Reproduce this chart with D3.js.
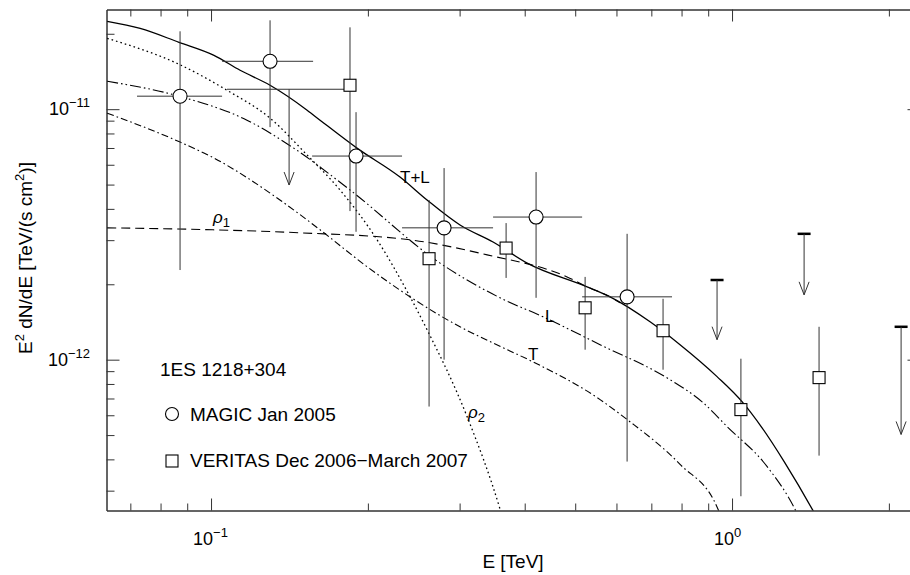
<!DOCTYPE html>
<html>
<head>
<meta charset="utf-8">
<script src="https://cdn.jsdelivr.net/npm/d3@7"></script>
<style>
  body { margin: 0; background: #fff; }
  text { font-family: "Liberation Sans", Arial, sans-serif; fill: #000; }
</style>
</head>
<body>
<div id="chart"></div>
<script>
// MAGIC Jan 2005 (E in TeV, E^2 dN/dE in TeV/(s cm^2))
const magicE   = [0.0872, 0.1298, 0.1898, 0.2801, 0.4206, 0.6289];
const magicF   = [1.127e-11, 1.553e-11, 6.50e-12, 3.36e-12, 3.71e-12, 1.782e-12];
const magicElo = [0.0721, 0.1050, 0.1563, 0.2326, 0.3478, 0.5155];
const magicEhi = [0.1050, 0.1570, 0.2326, 0.3478, 0.5155, 0.7670];
const magicFlo = [2.28e-12, 8.48e-12, 3.24e-12, 1.0e-12, 1.766e-12, 3.92e-13];
const magicFhi = [2.046e-11, 2.263e-11, 9.73e-12, 5.82e-12, 5.61e-12, 3.18e-12];
// MAGIC upper limit
const magicUlE = [0.1412], magicUlElo = [0.1073], magicUlEhi = [0.1848];
const magicUlF = [1.201e-11], magicUlTip = [4.98e-12];

// VERITAS Dec 2006 - March 2007
const veritasE   = [0.1848, 0.2621, 0.3684, 0.5224, 0.7372, 1.040, 1.469];
const veritasF   = [1.246e-11, 2.53e-12, 2.79e-12, 1.611e-12, 1.305e-12, 6.32e-13, 8.48e-13];
const veritasFlo = [3.92e-12, 6.50e-13, 2.12e-12, 1.096e-12, 9.12e-13, 2.85e-13, 4.14e-13];
const veritasFhi = [2.122e-11, 4.34e-12, 3.51e-12, 2.14e-12, 1.750e-12, 1.009e-12, 1.353e-12];
// VERITAS upper limits
const veritasUlE   = [0.9359, 1.375, 2.111];
const veritasUlF   = [2.08e-12, 3.18e-12, 1.353e-12];
const veritasUlTip = [1.202e-12, 1.815e-12, 5.03e-13];

// model curves
const tlE = [0.0632, 0.0731, 0.0868, 0.1013, 0.1137, 0.1298, 0.1529, 0.1619, 0.1906, 0.2305, 0.2598, 0.3005, 0.3478, 0.4043, 0.5270, 0.5833, 0.6961, 0.7947, 0.9359, 1.049, 1.141, 1.259, 1.430, 1.462];
const tlF = [2.242e-11, 2.10e-11, 1.849e-11, 1.641e-11, 1.430e-11, 1.246e-11, 9.91e-12, 9.04e-12, 6.99e-12, 5.36e-12, 4.34e-12, 3.45e-12, 2.95e-12, 2.43e-12, 1.954e-12, 1.782e-12, 1.417e-12, 1.148e-12, 8.56e-13, 6.74e-13, 5.36e-13, 3.92e-13, 2.50e-13, 2.30e-13];

const rho2E = [0.0632, 0.0868, 0.1073, 0.1298, 0.1529, 0.1768, 0.2083, 0.2410, 0.2598, 0.3100, 0.3587, 0.3636];
const rho2F = [1.918e-11, 1.511e-11, 1.190e-11, 9.21e-12, 6.56e-12, 4.76e-12, 3.01e-12, 1.782e-12, 1.317e-12, 5.93e-13, 2.53e-13, 2.30e-13];

const lE = [0.0632, 0.0868, 0.1172, 0.1431, 0.1848, 0.2751, 0.3587, 0.4338, 0.5581, 0.7603, 0.8797, 0.9781, 1.167, 1.321, 1.351];
const lF = [1.293e-11, 1.127e-11, 9.04e-12, 7.06e-12, 4.76e-12, 2.43e-12, 1.766e-12, 1.483e-12, 1.148e-12, 8.32e-13, 6.74e-13, 5.41e-13, 3.75e-13, 2.53e-13, 2.30e-13];

const tE = [0.0632, 0.0872, 0.1013, 0.1356, 0.1619, 0.1993, 0.3005, 0.3636, 0.4150, 0.5581, 0.6289, 0.7947, 0.9400, 0.9568];
const tF = [9.64e-12, 7.39e-12, 6.38e-12, 4.34e-12, 3.30e-12, 2.35e-12, 1.353e-12, 1.116e-12, 9.80e-13, 6.93e-13, 5.77e-13, 3.82e-13, 2.53e-13, 2.30e-13];

const rho1E = [0.0632, 0.1009, 0.1482, 0.2410, 0.3388, 0.4824, 0.5270, 0.5833, 0.6097];
const rho1F = [3.36e-12, 3.30e-12, 3.21e-12, 3.01e-12, 2.62e-12, 2.14e-12, 1.954e-12, 1.782e-12, 1.687e-12];

const xMajor = [0.1, 1];
const xMinor = [0.07, 0.08, 0.09, 0.2, 0.3, 0.4, 0.5, 0.6, 0.7, 0.8, 0.9, 2];
const yMajor = [1e-12, 1e-11];
const yMinor = [3e-13, 4e-13, 5e-13, 6e-13, 7e-13, 8e-13, 9e-13,
                2e-12, 3e-12, 4e-12, 5e-12, 6e-12, 7e-12, 8e-12, 9e-12, 2e-11];

const width = 910, height = 575;
const plotL = 106.5, plotR = 920.5, plotT = 9.5, plotB = 510.5;

const svg = d3.select("#chart").append("svg")
  .attr("width", width)
  .attr("height", height);

const x = d3.scaleLog().domain([0.063, 2.3]).range([plotL, plotR]);
const y = d3.scaleLog().domain([2.5e-13, 2.5e-11]).range([plotB, plotT]);

svg.append("clipPath").attr("id", "plot")
  .append("rect")
  .attr("x", plotL).attr("y", plotT)
  .attr("width", plotR - plotL).attr("height", plotB - plotT);

// axes: inward ticks on all four sides
function styleAxis(g) {
  g.selectAll("path, line").attr("stroke", "#333").attr("stroke-width", 1);
  g.selectAll("text").remove();
}
function addAxis(gen, tx, ty, vals, size) {
  svg.append("g")
    .attr("transform", `translate(${tx},${ty})`)
    .call(gen.tickValues(vals).tickSize(-size).tickSizeOuter(0).tickFormat(""))
    .call(styleAxis);
}
addAxis(d3.axisBottom(x), 0, plotB, xMajor, 12);
addAxis(d3.axisBottom(x), 0, plotB, xMinor, 7);
addAxis(d3.axisTop(x), 0, plotT, xMajor, 12);
addAxis(d3.axisTop(x), 0, plotT, xMinor, 7);
addAxis(d3.axisLeft(y), plotL, 0, yMajor, 13);
addAxis(d3.axisLeft(y), plotL, 0, yMinor, 8);
addAxis(d3.axisRight(y), plotR, 0, yMajor, 13);
addAxis(d3.axisRight(y), plotR, 0, yMinor, 8);

// tick labels
const xExp = { 0.1: "\u22121", 1: "0" };
xMajor.forEach(v => {
  const t = svg.append("text")
    .attr("x", x(v) - 18).attr("y", 545)
    .style("font-size", "18px");
  t.append("tspan").text("10");
  t.append("tspan").attr("dy", -8).style("font-size", "13px").text(xExp[v]);
});
const yExp = { 1e-12: "\u221212", 1e-11: "\u221211" };
yMajor.forEach(v => {
  const t = svg.append("text")
    .attr("x", 90).attr("y", y(v) + 6)
    .attr("text-anchor", "end")
    .style("font-size", "18px");
  t.append("tspan").text("10");
  t.append("tspan").attr("dy", -8).style("font-size", "13px").text(yExp[v]);
});

// axis titles
svg.append("text")
  .attr("x", 513).attr("y", 568)
  .attr("text-anchor", "middle")
  .style("font-size", "19px")
  .text("E [TeV]");

const yt = svg.append("text")
  .attr("transform", "translate(32,258) rotate(-90)")
  .attr("text-anchor", "middle")
  .style("font-size", "19px");
yt.append("tspan").text("E");
yt.append("tspan").attr("dy", -8).style("font-size", "13px").text("2");
yt.append("tspan").attr("dy", 8).text(" dN/dE [TeV/(s cm");
yt.append("tspan").attr("dy", -8).style("font-size", "13px").text("2");
yt.append("tspan").attr("dy", 8).text(")]");

// model curves
const plot = svg.append("g").attr("clip-path", "url(#plot)");
const line = d3.line()
  .x(d => x(d[0]))
  .y(d => y(d[1]))
  .curve(d3.curveMonotoneX);

const curves = [
  { E: rho1E, F: rho1F, dash: "9,5", w: 1.1 },
  { E: rho2E, F: rho2F, dash: "1.6,3", w: 1.3 },
  { E: tE, F: tF, dash: "7,3,1.6,3", w: 1.1 },
  { E: lE, F: lF, dash: "11,3,1.6,3,1.6,3", w: 1.1 },
  { E: tlE, F: tlF, dash: null, w: 1.3 },
];
curves.forEach(c => {
  plot.append("path")
    .datum(c.E.map((e, i) => [e, c.F[i]]))
    .attr("d", line)
    .attr("fill", "none")
    .attr("stroke", "#000")
    .attr("stroke-width", c.w)
    .attr("stroke-dasharray", c.dash);
});

// curve labels
function label(px, py, main, sub, italic) {
  const t = svg.append("text").attr("x", px).attr("y", py).style("font-size", "17px");
  const m = t.append("tspan").text(main);
  if (italic) m.style("font-style", "italic");
  if (sub) t.append("tspan").attr("dy", 4).style("font-size", "13px").text(sub);
}
label(400, 183, "T+L");
label(545, 322, "L");
label(528, 360, "T");
label(213, 223, "\u03c1", "1", true);
label(468, 418, "\u03c1", "2", true);

// error bars and markers
const bars = svg.append("g").attr("stroke", "#333").attr("stroke-width", 1);

magicE.forEach((e, i) => {
  bars.append("line")
    .attr("x1", x(magicElo[i])).attr("x2", x(magicEhi[i]))
    .attr("y1", y(magicF[i])).attr("y2", y(magicF[i]));
  bars.append("line")
    .attr("x1", x(e)).attr("x2", x(e))
    .attr("y1", y(magicFlo[i])).attr("y2", y(magicFhi[i]));
});
veritasE.forEach((e, i) => {
  bars.append("line")
    .attr("x1", x(e)).attr("x2", x(e))
    .attr("y1", y(veritasFlo[i])).attr("y2", y(veritasFhi[i]));
});

function arrow(px, y0, y1) {
  bars.append("line").attr("x1", px).attr("x2", px).attr("y1", y0).attr("y2", y1);
  bars.append("path")
    .attr("d", `M${px - 5},${y1 - 13}L${px},${y1}L${px + 5},${y1 - 13}`)
    .attr("fill", "none");
}
magicUlE.forEach((e, i) => {
  bars.append("line")
    .attr("x1", x(magicUlElo[i])).attr("x2", x(magicUlEhi[i]))
    .attr("y1", y(magicUlF[i])).attr("y2", y(magicUlF[i]));
  arrow(x(e), y(magicUlF[i]), y(magicUlTip[i]));
});
veritasUlE.forEach((e, i) => {
  bars.append("line")
    .attr("x1", x(e) - 6.5).attr("x2", x(e) + 6.5)
    .attr("y1", y(veritasUlF[i])).attr("y2", y(veritasUlF[i]))
    .attr("stroke", "#000").attr("stroke-width", 2.5);
  arrow(x(e), y(veritasUlF[i]), y(veritasUlTip[i]));
});

svg.append("g").selectAll("circle")
  .data(magicE.map((e, i) => [e, magicF[i]]))
  .enter().append("circle")
  .attr("cx", d => x(d[0])).attr("cy", d => y(d[1]))
  .attr("r", 7)
  .attr("fill", "#fff").attr("stroke", "#000").attr("stroke-width", 1.1);

svg.append("g").selectAll("rect")
  .data(veritasE.map((e, i) => [e, veritasF[i]]))
  .enter().append("rect")
  .attr("x", d => x(d[0]) - 6).attr("y", d => y(d[1]) - 6)
  .attr("width", 12).attr("height", 12)
  .attr("fill", "#fff").attr("stroke", "#000").attr("stroke-width", 1.1);

// legend
svg.append("text").attr("x", 160).attr("y", 376).style("font-size", "19px").text("1ES 1218+304");
svg.append("circle").attr("cx", 172).attr("cy", 414).attr("r", 6.5)
  .attr("fill", "#fff").attr("stroke", "#000").attr("stroke-width", 1.1);
svg.append("text").attr("x", 190).attr("y", 421).style("font-size", "19px").text("MAGIC Jan 2005");
svg.append("rect").attr("x", 166).attr("y", 455).attr("width", 12).attr("height", 12)
  .attr("fill", "#fff").attr("stroke", "#000").attr("stroke-width", 1.1);
svg.append("text").attr("x", 190).attr("y", 467).style("font-size", "19px").text("VERITAS Dec 2006\u2212March 2007");
</script>
</body>
</html>
